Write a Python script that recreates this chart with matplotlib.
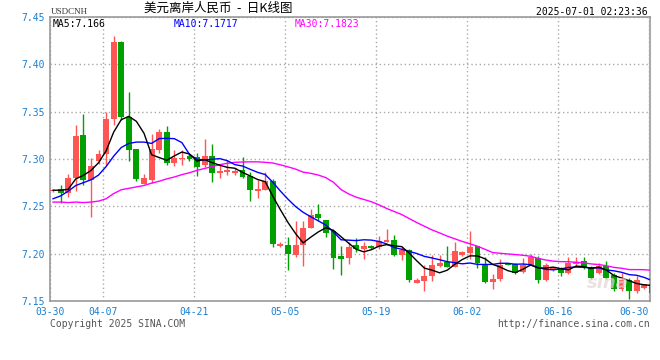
import matplotlib
matplotlib.use("Agg")
import matplotlib.pyplot as plt
import numpy as np
import pandas as pd

# Daily candles, Sun-Fri sessions from 2025-03-30 to 2025-06-30
opens = [7.266, 7.268, 7.264, 7.280, 7.3255, 7.278, 7.298, 7.305, 7.342, 7.4237,
         7.344, 7.3103, 7.2737, 7.2777, 7.310, 7.3284, 7.2955, 7.300, 7.3032, 7.3025,
         7.2936, 7.3035, 7.285, 7.2858, 7.2848, 7.2883, 7.2819, 7.266, 7.267, 7.2766,
         7.2085, 7.2096, 7.199, 7.2096, 7.227, 7.2415, 7.2351, 7.2238, 7.1971, 7.195,
         7.2092, 7.205, 7.2078, 7.2067, 7.212, 7.2149, 7.199, 7.2035, 7.1695, 7.1713,
         7.1766, 7.1872, 7.1908, 7.1855, 7.1986, 7.2007, 7.2085, 7.1883, 7.1705, 7.1731,
         7.1901, 7.189, 7.1809, 7.1879, 7.1954, 7.172, 7.1827, 7.1837, 7.1795, 7.189,
         7.1926, 7.1855, 7.180, 7.1872, 7.1777, 7.1624, 7.1723, 7.1606, 7.1641, 7.1677]
highs = [7.268, 7.273, 7.284, 7.336, 7.348, 7.301, 7.309, 7.350, 7.4295, 7.425,
         7.371, 7.311, 7.284, 7.326, 7.3316, 7.335, 7.3096, 7.310, 7.306, 7.306,
         7.321, 7.316, 7.2943, 7.299, 7.290, 7.3025, 7.2866, 7.2777, 7.2858, 7.2794,
         7.212, 7.2173, 7.235, 7.235, 7.2468, 7.252, 7.236, 7.2263, 7.2085, 7.212,
         7.2163, 7.212, 7.209, 7.2184, 7.2263, 7.220, 7.2085, 7.205, 7.174, 7.1883,
         7.1986, 7.1986, 7.2085, 7.212, 7.203, 7.2238, 7.2085, 7.196, 7.1784, 7.1944,
         7.1905, 7.1897, 7.195, 7.1997, 7.1979, 7.190, 7.186, 7.1855, 7.1961, 7.1961,
         7.1968, 7.187, 7.190, 7.1926, 7.180, 7.1794, 7.1748, 7.1762, 7.168, 7.1694]
lows = [7.265, 7.253, 7.260, 7.266, 7.273, 7.239, 7.295, 7.2936, 7.336, 7.3415,
        7.298, 7.2766, 7.2737, 7.275, 7.3067, 7.2936, 7.293, 7.2936, 7.298, 7.282,
        7.2918, 7.276, 7.280, 7.283, 7.283, 7.280, 7.2553, 7.2589, 7.267, 7.2074,
        7.2067, 7.1827, 7.196, 7.187, 7.2266, 7.2344, 7.2174, 7.1837, 7.1777, 7.189,
        7.2021, 7.194, 7.205, 7.205, 7.212, 7.198, 7.1933, 7.170, 7.169, 7.1606,
        7.1713, 7.1855, 7.1855, 7.1855, 7.198, 7.1944, 7.1844, 7.1688, 7.163, 7.1713,
        7.188, 7.1784, 7.180, 7.1879, 7.1695, 7.1713, 7.182, 7.1766, 7.1784, 7.1855,
        7.1837, 7.173, 7.178, 7.173, 7.1606, 7.161, 7.1524, 7.1588, 7.163, 7.156]
closes = [7.267, 7.264, 7.280, 7.3245, 7.278, 7.2926, 7.305, 7.3426, 7.4237, 7.344,
          7.310, 7.2784, 7.280, 7.3103, 7.329, 7.2955, 7.3014, 7.3007, 7.2997, 7.2918,
          7.3032, 7.2854, 7.287, 7.2883, 7.2872, 7.2812, 7.267, 7.268, 7.2766, 7.2103,
          7.2099, 7.1997, 7.2096, 7.2275, 7.2404, 7.2376, 7.222, 7.195, 7.1944, 7.2067,
          7.205, 7.2085, 7.2062, 7.2131, 7.2149, 7.1989, 7.204, 7.172, 7.172, 7.1766,
          7.1883, 7.1901, 7.1855, 7.2032, 7.2021, 7.2074, 7.1897, 7.1705, 7.1737, 7.1879,
          7.1883, 7.180, 7.1879, 7.1961, 7.172, 7.1879, 7.1851, 7.1795, 7.1901, 7.1915,
          7.1855, 7.1748, 7.1872, 7.1748, 7.1624, 7.1723, 7.1606, 7.1723, 7.1677, 7.1588]

# Moving-average values at the start of the window (they need earlier sessions)
ma5_head = [7.267, 7.267, 7.268, 7.279]
ma10_head = [7.258, 7.261, 7.266, 7.272, 7.275, 7.278, 7.283, 7.292, 7.303]
ma30_head = [7.2545, 7.2545, 7.254, 7.2545, 7.254, 7.2545, 7.2555, 7.258, 7.2635, 7.2675,
             7.269, 7.2705, 7.272, 7.2745, 7.2765, 7.279, 7.281, 7.2835, 7.2855, 7.288,
             7.290, 7.292, 7.294, 7.2955, 7.2965, 7.2968, 7.297, 7.297, 7.2965]

# readouts printed in the header row
ma_labels = ['MA5:7.166', 'MA10:7.1717', 'MA30:7.1823']
ma_colors = ['black', '#0000ff', '#ff00ff']

tick_labels = ['03-30', '04-07', '04-21', '05-05', '05-19', '06-02', '06-16', '06-30']
y_ticks = [7.15, 7.20, 7.25, 7.30, 7.35, 7.40, 7.45]

days = pd.date_range('2025-03-30', '2025-06-30')
days = days[days.dayofweek != 5]
dates = list(days.strftime('%m-%d'))

o = np.array(opens)
h = np.array(highs)
l = np.array(lows)
c = np.array(closes)
x = np.arange(len(c))


def moving_avg(values, n, head):
    ma = pd.Series(values).rolling(n).mean().to_numpy()
    ma[:len(head)] = head
    return ma


ma5 = moving_avg(c, 5, ma5_head)
ma10 = moving_avg(c, 10, ma10_head)
ma30 = moving_avg(c, 30, ma30_head)

W, H = 660, 360
fig = plt.figure(figsize=(6.6, 3.6), dpi=100)
ax = fig.add_axes([50 / W, 1 - 301 / H, 600 / W, 284 / H])

mono = 'DejaVu Sans Mono'
blue_txt = '#1a7fd0'
red = '#ff5555'
green = '#00a000'

up = c >= o
col = np.where(up, red, green)
xc = x + 0.4  # candles sit just right of their date line

ax.vlines(xc, l, h, colors=col, linewidth=1, zorder=2)
body = np.maximum(np.abs(c - o), 0.0008)
ax.bar(xc, body, bottom=np.minimum(o, c), width=0.78, color=col,
       linewidth=0, zorder=3)

ax.plot(xc, ma30, color='#ff00ff', lw=1, zorder=4)
ax.plot(xc, ma10, color='#0000ff', lw=1, zorder=4)
ax.plot(xc, ma5, color='black', lw=1, zorder=5)

ax.set_xlim(0, 79.16)
ax.set_ylim(7.15, 7.45)

tick_pos = [dates.index(t) for t in tick_labels]
ax.set_xticks(tick_pos)
ax.set_xticklabels(tick_labels)
ax.set_yticks(y_ticks)
ax.set_yticklabels(['%.2f' % v for v in y_ticks])
ax.tick_params(length=0, labelsize=7, labelcolor=blue_txt, pad=4)
for lab in ax.get_xticklabels() + ax.get_yticklabels():
    lab.set_fontfamily(mono)
ax.get_xticklabels()[-1].set_ha('right')

ax.grid(True, color='#aaaaaa', linestyle=(0, (1, 2)), linewidth=1)
ax.set_axisbelow(True)
for side in ['left', 'top', 'bottom']:
    ax.spines[side].set_color('#999999')
    ax.spines[side].set_linewidth(1.2)
ax.spines['right'].set_color('#aaaaaa')
ax.spines['right'].set_linestyle((0, (1, 1)))
ax.spines['right'].set_linewidth(1.5)

# faint watermark
ax.text(0.965, 0.03, 'sina', transform=ax.transAxes, ha='right', va='bottom',
        fontsize=13, style='italic', fontweight='bold', color='#e2d6d6',
        alpha=0.7, zorder=6)

# moving-average readouts
for xpix, txt, colr in zip([3, 124, 245], ma_labels, ma_colors):
    ax.text(xpix / 600, 0.992, txt, transform=ax.transAxes, ha='left', va='top',
            fontsize=7, family=mono, color=colr)

# header and footer
fig.text(51 / W, 1 - 12 / H, 'USDCNH', ha='left', va='center', fontsize=6.5,
         family='Liberation Serif', color='#333333')
fig.text(218 / W, 1 - 8 / H, '美元离岸人民币  -  日K线图', ha='center', va='center',
         fontsize=9, family=['Noto Sans CJK SC', 'DejaVu Sans'], color='black')
fig.text(648 / W, 1 - 12 / H, '2025-07-01 02:23:36', ha='right', va='center',
         fontsize=7, family=mono, color='black')
fig.text(50 / W, 1 - 324 / H, 'Copyright 2025 SINA.COM', ha='left', va='center',
         fontsize=7, family=mono, color='#555555')
fig.text(650 / W, 1 - 324 / H, 'http://finance.sina.com.cn', ha='right', va='center',
         fontsize=7, family=mono, color='#555555')

fig.savefig('out.png', dpi=100, facecolor='white')
